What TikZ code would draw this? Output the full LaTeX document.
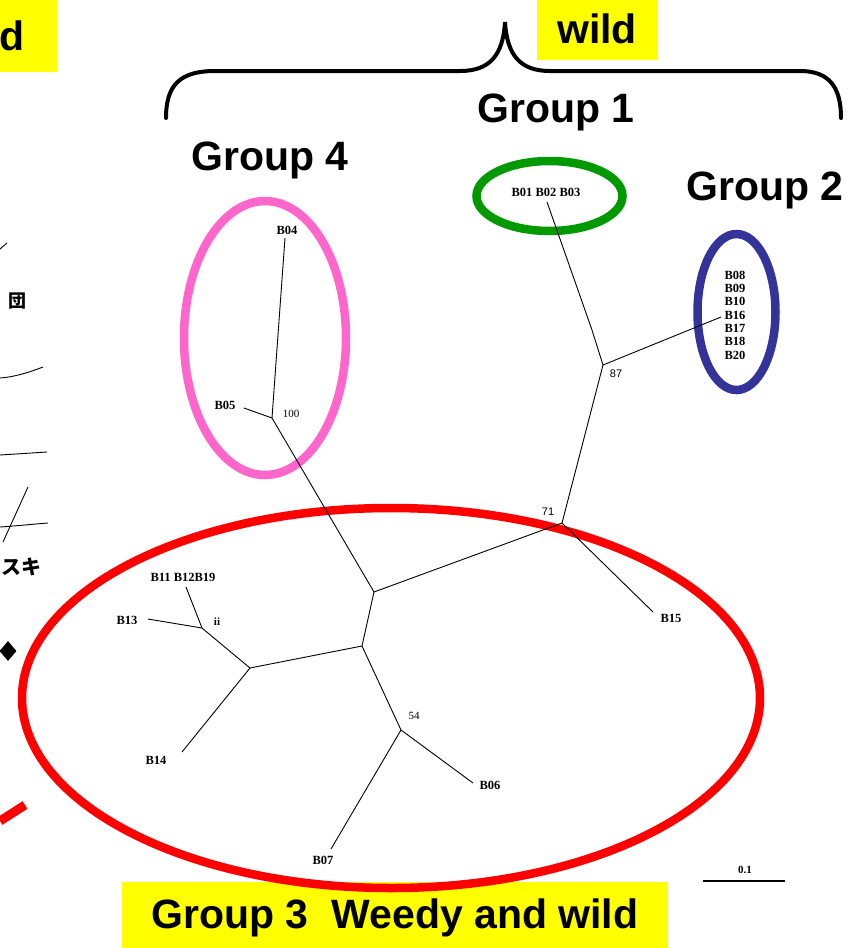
\documentclass[tikz,border=0pt]{standalone}
\usepackage{fontspec}
\setmainfont{Liberation Serif}
\newfontfamily\arialf{Liberation Sans}
\newfontfamily\cjkf{Noto Sans CJK JP}
\usetikzlibrary{shapes.geometric}
\definecolor{ygold}{RGB}{255,255,0}
\definecolor{grp1}{RGB}{0,153,0}
\definecolor{grp2}{RGB}{51,51,153}
\definecolor{grp4}{RGB}{255,102,204}
\definecolor{grp3}{RGB}{255,0,0}
\tikzset{
  leaf/.style={font=\fontsize{12.5}{13}\selectfont\bfseries, inner sep=0pt},
  boot/.style={font=\fontsize{11}{11}\selectfont, inner sep=0pt},
  bootsans/.style={font=\arialf\fontsize{11}{11}\selectfont, inner sep=0pt},
  branch/.style={line width=0.9pt},
  grouptitle/.style={font=\arialf\bfseries\fontsize{41}{44}\selectfont, inner sep=0pt},
  ring/.style={line width=8.5pt},
  hand/.style={line width=0.9pt},
}
\begin{document}
\begin{tikzpicture}[x=1pt,y=-1pt]
\useasboundingbox (0,0) rectangle (859,948);
\begin{scope}
\clip (0,0) rectangle (859,948);
% yellow boxes
\fill[ygold] (0,0) rectangle (57,72);
\node[grouptitle, anchor=east] (dtxt) at (25,36) {d};
\fill[ygold] (537,0) rectangle (658,60);
\node[grouptitle] (wildtxt) at (597,29) {wild};
\fill[ygold] (122,882) rectangle (668,948);
\node[grouptitle] (g3txt) at (395,918) {Group 3\ \ Weedy and wild};
% left-edge fragments
\draw[hand] (0,249) -- (7,243);
\node[font=\cjkf\bfseries\fontsize{18}{18}\selectfont, inner sep=0pt, anchor=east] (shudan) at (27,301) {団};
\draw[hand] (0,378) .. controls (15,377) and (30,372) .. (43,367);
\draw[hand] (0,455) -- (47,452);
\draw[hand] (28,487) -- (3,542);
\draw[hand] (0,527) .. controls (15,526) and (35,524) .. (48,523);
\node[font=\cjkf\bfseries\fontsize{20}{20}\selectfont, inner sep=0pt, anchor=east] (susuki) at (42,567) {スキ};
\node[diamond, fill=black, inner sep=0pt, minimum width=17pt, minimum height=20pt] (dia) at (8,651) {};
\draw[grp3, line width=9pt] (0,821) -- (25,805);
\end{scope}
% brace
\draw[line width=4pt, line cap=round] (166,118) .. controls (166,85) and (180,71) .. (215,71)
  -- (460,71) .. controls (490,71) and (503,55) .. (505,22)
  .. controls (507,55) and (520,71) .. (550,71) -- (800,71)
  .. controls (830,71) and (841,88) .. (841,118);
\node[grouptitle] (g1txt) at (556,112) {Group 1};
\node[grouptitle] (g4txt) at (270,160) {Group 4};
\node[grouptitle] (g2txt) at (765,190) {Group 2};
% ellipses
\draw[ring, grp1] (549.5,196) ellipse [x radius=73, y radius=35];
\draw[ring, grp2] (736.5,312) ellipse [x radius=39, y radius=78];
\draw[ring, grp4] (265,338) ellipse [x radius=81, y radius=137];
\draw[ring, grp3] (391,698) ellipse [x radius=369, y radius=190];
% tree junctions
\coordinate (j87) at (603,365);
\coordinate (j71) at (562,523);
\coordinate (jc) at (374,592);
\coordinate (j100) at (272,418);
\coordinate (jd) at (362,646);
\coordinate (je) at (250,668);
\coordinate (jff) at (202,628);
\coordinate (j54) at (401,730);
% leaf ends
\coordinate (e1) at (547,202);
\coordinate (e2) at (721,317);
\coordinate (e15) at (653,612);
\coordinate (e04) at (285,238);
\coordinate (e05) at (244,408);
\coordinate (e12) at (186,587);
\coordinate (e13) at (148,619);
\coordinate (e14) at (182,752);
\coordinate (e06) at (473,783);
\coordinate (e07) at (331,849);
% branches
\draw[branch] (e1) -- (592,330) -- (j87);
\draw[branch] (j87) -- (e2);
\draw[branch] (j87) -- (j71);
\draw[branch] (j71) -- (e15);
\draw[branch] (j71) -- (jc);
\draw[branch] (jc) -- (j100);
\draw[branch] (j100) -- (e04);
\draw[branch] (j100) -- (e05);
\draw[branch] (jc) -- (jd);
\draw[branch] (jd) -- (je);
\draw[branch] (je) -- (jff);
\draw[branch] (jff) -- (e12);
\draw[branch] (jff) -- (e13);
\draw[branch] (je) -- (e14);
\draw[branch] (jd) -- (j54);
\draw[branch] (j54) -- (e06);
\draw[branch] (j54) -- (e07);
% leaf labels
\node[leaf] (l123) at (546,192) {B01 B02 B03};
\node[leaf, align=center, font=\fontsize{12.5}{13.3}\selectfont\bfseries] (lg2) at (735,315) {B08\\B09\\B10\\B16\\B17\\B18\\B20};
\node[leaf] (l04) at (287,230) {B04};
\node[leaf] (l05) at (225,405) {B05};
\node[leaf] (l111219) at (183,577) {B11 B12B19};
\node[leaf] (l13) at (127,620) {B13};
\node[leaf] (l14) at (156,760) {B14};
\node[leaf] (l15) at (671,618) {B15};
\node[leaf] (l06) at (490,785) {B06};
\node[leaf] (l07) at (323,860) {B07};
% bootstrap values
\node[bootsans] (b87) at (616,374) {87};
\node[bootsans] (b71) at (548,512) {71};
\node[boot] (b100) at (291,414) {100};
\node[boot, font=\fontsize{11}{11}\selectfont\bfseries] (bff) at (217,622) {ii};
\node[boot] (b54) at (414,716) {54};
% scale bar
\coordinate (sb1) at (703,881);
\coordinate (sb2) at (785,881);
\draw[line width=1.2pt] (sb1) -- (sb2);
\node[leaf, font=\fontsize{11}{11}\selectfont\bfseries] (sbl) at (745,870) {0.1};
\end{tikzpicture}
\end{document}
